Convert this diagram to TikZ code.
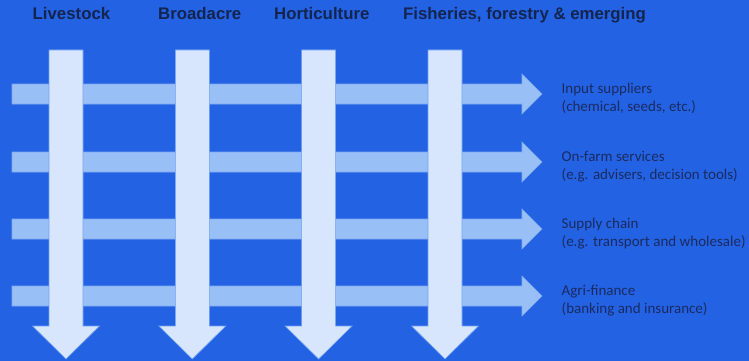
\documentclass[tikz,border=0pt]{standalone}
\usepackage{fontspec}
\setmainfont{Liberation Sans}
\newfontfamily\carlito{Carlito}
\definecolor{bgc}{HTML}{2462E4}
\definecolor{hbar}{HTML}{99C0F6}
\definecolor{hedge}{HTML}{7AA8EE}
\definecolor{vbar}{HTML}{D7E6FC}
\definecolor{vedge}{HTML}{6FA0F0}
\definecolor{titlec}{HTML}{13254F}
\definecolor{labc}{HTML}{1A2B60}
\begin{document}
\begin{tikzpicture}[x=1pt,y=-1pt,
  harrow/.style={fill=hbar, draw=hedge, line width=0.6pt},
  varrow/.style={fill=vbar, draw=vedge, line width=0.6pt},
  title/.style={font=\bfseries\fontsize{16.8}{20}\selectfont, text=titlec, anchor=base west, inner sep=0pt},
  lab/.style={font=\carlito\fontsize{15}{18}\selectfont, text=labc, anchor=base west, inner sep=0pt}]
\fill[bgc] (0,0) rectangle (749,361);
\useasboundingbox (0,0) rectangle (749,361);
% horizontal arrows
\foreach \y in {94,162,229,296}{
  \draw[harrow] (12,{\y-10}) -- (522,{\y-10}) -- (522,{\y-20}) -- (542,\y) -- (522,{\y+20}) -- (522,{\y+10}) -- (12,{\y+10}) -- cycle;
}
% vertical arrows
\foreach \x in {66,192.3,318.6,445}{
  \draw[varrow] ({\x-17},50) -- ({\x+17},50) -- ({\x+17},326) -- ({\x+33.5},326) -- (\x,359) -- ({\x-33.5},326) -- ({\x-17},326) -- cycle;
}
% titles
\node[title] (t1) at (32.5,20) {Livestock};
\node[title] (t2) at (158,20) {Broadacre};
\node[title] (t3) at (274,20) {Horticulture};
\node[title] (t4) at (403,20) {Fisheries, forestry \& emerging};
% labels
\node[lab] (l1) at (561.5,93.4) {\vtop{\hbox{Input suppliers}\hbox{(chemical, seeds, etc.)}}};
\node[lab] (l2) at (561.5,161.4) {\vtop{\hbox{On-farm services}\hbox{(e.g. advisers, decision tools)}}};
\node[lab] (l3) at (561.5,228.4) {\vtop{\hbox{Supply chain}\hbox{(e.g. transport and wholesale)}}};
\node[lab] (l4) at (561.5,295.4) {\vtop{\hbox{Agri-finance}\hbox{(banking and insurance)}}};
\end{tikzpicture}
\end{document}
